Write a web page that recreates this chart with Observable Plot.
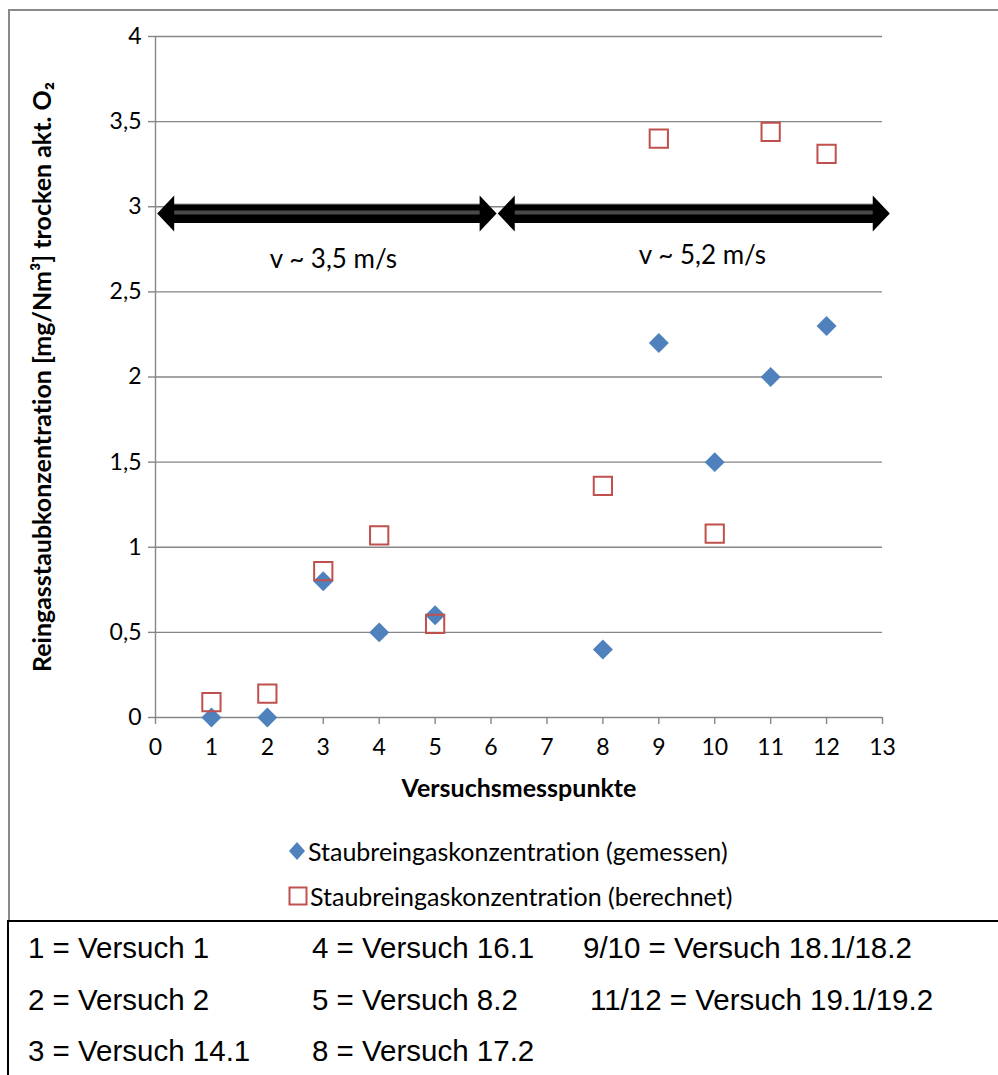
<!DOCTYPE html>
<html><head><meta charset="utf-8">
<script src="https://cdn.jsdelivr.net/npm/d3@7"></script>
<script src="https://cdn.jsdelivr.net/npm/@observablehq/plot@0.6"></script>
<style>
body{margin:0;background:#fff;}
#wrap{position:relative;width:998px;height:1075px;overflow:hidden;background:#fff;font-family:Lato,"Open Sans",sans-serif;}
#wrap, #wrap svg, #wrap svg text{font-variant-ligatures:none;font-feature-settings:"liga" 0, "clig" 0;}
#frame{position:absolute;left:8px;top:9px;width:1010px;height:913px;border-top:2px solid #8a8a8a;border-left:2px solid #8a8a8a;box-sizing:border-box;}
#plot{position:absolute;left:0;top:0;}
.lg{position:absolute;left:288px;height:30px;display:flex;align-items:center;font-size:25px;color:#000;white-space:nowrap;}
.lg svg{margin-right:2px;}
#table{position:absolute;left:7px;top:920px;width:1010px;height:160px;border-top:2px solid #000;border-left:2px solid #000;box-sizing:border-box;font-family:"Liberation Sans",Arial,sans-serif;font-size:29.5px;color:#000;}
.cell{position:absolute;white-space:nowrap;}
</style></head>
<body><div id="wrap"><div id="frame"></div><div id="plot"></div><div id="legend"></div><div id="table"></div></div>
<script>
// ---- data ----
const punkte    = [1, 2, 3, 4, 5, 8, 9, 10, 11, 12];
const gemessen  = [0, 0, 0.8, 0.5, 0.6, 0.4, 2.2, 1.5, 2.0, 2.3];
const berechnet = [0.09, 0.14, 0.86, 1.07, 0.55, 1.36, 3.40, 1.08, 3.44, 3.31];
const seriesNames = ["Staubreingaskonzentration (gemessen)", "Staubreingaskonzentration (berechnet)"];
const xTicks = [0,1,2,3,4,5,6,7,8,9,10,11,12,13];
const yTicks = [0, 0.5, 1, 1.5, 2, 2.5, 3, 3.5, 4];
const arrowStart = [0.03, 6.12];
const arrowEnd   = [6.10, 13.13];
const arrowY     = [2.96, 2.96];
const speedLabels = ["v ~ 3,5 m/s", "v ~ 5,2 m/s"];
const speedX = [3.18, 9.78];
const speedY = [2.69, 2.71];
const xTitle = "Versuchsmesspunkte";
const yTitle = "Reingasstaubkonzentration [mg/Nm³] trocken akt. O₂";
const tableCols = [
  ["1 = Versuch 1", "2 = Versuch 2", "3 = Versuch 14.1"],
  ["4 = Versuch 16.1", "5 = Versuch 8.2", "8 = Versuch 17.2"],
  ["9/10 = Versuch 18.1/18.2", "11/12 = Versuch 19.1/19.2"]
];

const blue = "#4F81BD", red = "#C0504D", grid = "#868686";

const measured = punkte.map((p, i) => ({x: p, y: gemessen[i]}));
const computed = punkte.map((p, i) => ({x: p, y: berechnet[i]}));
const arrows = arrowStart.map((s, i) => ({x1: s, x2: arrowEnd[i], y: arrowY[i]}));
const speeds = speedLabels.map((t, i) => ({x: speedX[i], y: speedY[i], t}));

const headL = {draw(c){ c.moveTo(0,0); c.lineTo(17,-18); c.lineTo(17,18); c.closePath(); }};
const headR = {draw(c){ c.moveTo(0,0); c.lineTo(-17,-18); c.lineTo(-17,18); c.closePath(); }};

const chart = Plot.plot({
  width: 998, height: 921,
  marginLeft: 155, marginRight: 116, marginTop: 36, marginBottom: 204,
  style: {fontFamily: "Lato, 'Open Sans', sans-serif", fontSize: "23px", background: "transparent", overflow: "visible"},
  x: {domain: [0, 13]},
  y: {domain: [0, 4]},
  marks: [
    Plot.gridY(yTicks, {stroke: grid, strokeOpacity: 1, strokeWidth: 1.4}),
    Plot.ruleX([0], {stroke: grid, strokeWidth: 1.4}),
    Plot.axisY(yTicks, {tickSize: 7, tickPadding: 7, stroke: grid, fill: "#000", strokeWidth: 1.4, label: null,
      tickFormat: d => String(d).replace(".", ","), fontSize: 23}),
    Plot.axisX(xTicks, {tickSize: 7, tickPadding: 14, stroke: grid, fill: "#000", strokeWidth: 1.4, label: null,
      tickFormat: d => String(d), fontSize: 23}),
    Plot.text([xTitle], {text: d => d, frameAnchor: "bottom", dy: 79, fontWeight: "bold", fontSize: 25, fill: "#000"}),
    Plot.text([yTitle], {text: d => d, frameAnchor: "left", textAnchor: "middle", dx: -113, rotate: -90, fontWeight: "bold", fontSize: 25, fill: "#000"}),
    // arrows
    Plot.ruleY(arrows, {x1: "x1", x2: "x2", y: "y", insetLeft: 15, insetRight: 15, stroke: "#000", strokeWidth: 19}),
    Plot.ruleY(arrows, {x1: "x1", x2: "x2", y: "y", insetLeft: 15, insetRight: 15, stroke: "#4a4a4a", strokeWidth: 4, dy: -1}),
    Plot.ruleY(arrows, {x1: "x1", x2: "x2", y: "y", insetLeft: 15, insetRight: 15, stroke: "#8a8a8a", strokeWidth: 1, dy: -9.5}),
    Plot.dot(arrows, {x: "x1", y: "y", symbol: headL, fill: "#000", stroke: null}),
    Plot.dot(arrows, {x: "x2", y: "y", symbol: headR, fill: "#000", stroke: null}),
    Plot.text(speeds, {x: "x", y: "y", text: "t", fontSize: 26, fill: "#000"}),
    // data
    Plot.dot(measured, {x: "x", y: "y", symbol: "diamond2", r: 9, fill: blue, stroke: null}),
    Plot.dot(computed, {x: "x", y: "y", symbol: "square", r: 10.3, fill: "none", stroke: red, strokeWidth: 2})
  ]
});
document.getElementById("plot").appendChild(chart);

// legend
const legend = document.getElementById("legend");
const sym = [
  '<svg width="18" height="20" viewBox="-9 -10 18 20"><path d="M0,-9L8,0L0,9L-8,0Z" fill="'+blue+'"/></svg>',
  '<svg width="20" height="20" viewBox="-10 -10 20 20"><rect x="-8.5" y="-8.5" width="17" height="17" fill="none" stroke="'+red+'" stroke-width="2"/></svg>'
];
const legendTops = [836, 881];
seriesNames.forEach((n, i) => {
  const d = document.createElement("div");
  d.className = "lg";
  d.style.top = legendTops[i] + "px";
  d.innerHTML = sym[i] + "<span>" + n + "</span>";
  legend.appendChild(d);
});

// table
const table = document.getElementById("table");
const colX = [19, 303, 574];
const rowTop = [9, 61, 112];
tableCols.forEach((col, ci) => col.forEach((t, ri) => {
  const d = document.createElement("div");
  d.className = "cell";
  d.style.left = colX[ci] + (ci === 2 && ri === 1 ? 7 : 0) + "px";
  d.style.top = rowTop[ri] + "px";
  d.textContent = t;
  table.appendChild(d);
}));
</script></body></html>
